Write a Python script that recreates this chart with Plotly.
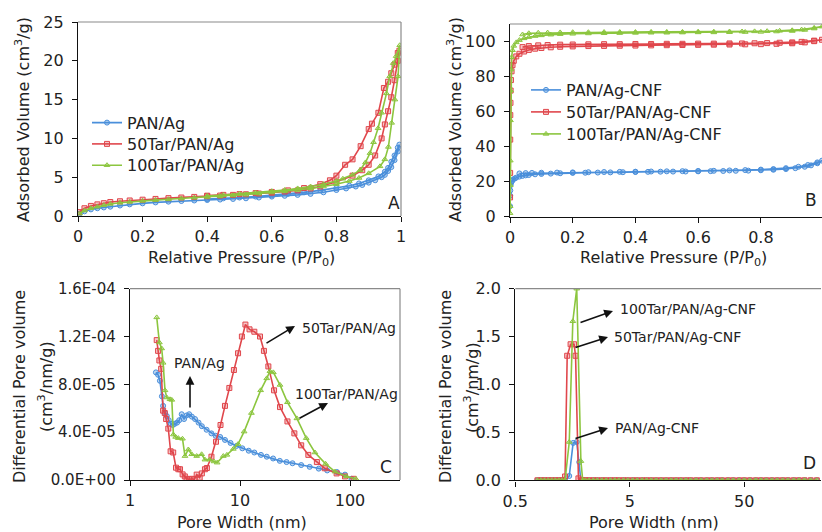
import plotly.graph_objects as go

W, H = 822, 532
FONT = "DejaVu Sans, Arial, sans-serif"
BLUE, RED, GREEN = "#4A8FDB", "#E0474C", "#8CC63F"
BLUE_F, RED_F, GREEN_F = "rgba(74,143,219,0.35)", "rgba(224,71,76,0.3)", "rgba(140,198,63,0.35)"

# ---------------- Panel A: isotherms (adsorption then desorption) ----------------
A_BLUE_P = [0.005, 0.02, 0.04, 0.06, 0.08, 0.10, 0.13, 0.16, 0.20, 0.24, 0.28, 0.32, 0.36, 0.40, 0.44, 0.48,
            0.52, 0.56, 0.60, 0.64, 0.68, 0.72, 0.76, 0.80, 0.83, 0.86, 0.88, 0.90, 0.92, 0.94, 0.95, 0.96,
            0.97, 0.98, 0.99, 0.995,
            0.99, 0.98, 0.97, 0.96, 0.95, 0.93, 0.90, 0.87, 0.84, 0.80, 0.75, 0.70, 0.65, 0.60, 0.55, 0.50,
            0.45, 0.40]
A_BLUE_V = [0.3, 0.6, 0.85, 1.0, 1.1, 1.2, 1.35, 1.5, 1.63, 1.75, 1.85, 1.93, 2.0, 2.06, 2.12, 2.2,
            2.28, 2.38, 2.5, 2.6, 2.72, 2.85, 3.05, 3.35, 3.55, 3.8, 4.0, 4.3, 4.6, 5.0, 5.3, 5.8,
            6.3, 7.2, 8.3, 9.2,
            8.8, 7.8, 7.0, 6.2, 5.7, 5.1, 4.6, 4.2, 3.9, 3.6, 3.3, 3.05, 2.85, 2.65, 2.5, 2.38,
            2.28, 2.18]

A_RED_P = [0.003, 0.02, 0.04, 0.06, 0.08, 0.10, 0.13, 0.16, 0.20, 0.24, 0.28, 0.32, 0.36, 0.40, 0.44, 0.48,
           0.52, 0.56, 0.60, 0.64, 0.68, 0.72, 0.75, 0.80, 0.85, 0.88, 0.90, 0.92, 0.94, 0.95, 0.96, 0.97,
           0.98, 0.99, 0.995,
           0.99, 0.98, 0.97, 0.96, 0.947, 0.93, 0.91, 0.90, 0.875, 0.85, 0.827, 0.80, 0.78, 0.75, 0.70,
           0.65, 0.60, 0.55, 0.50, 0.45, 0.40]
A_RED_V = [0.5, 1.0, 1.3, 1.5, 1.65, 1.8, 1.9, 2.0, 2.1, 2.2, 2.3, 2.38, 2.46, 2.55, 2.63, 2.72,
           2.8, 2.9, 3.0, 3.15, 3.3, 3.55, 3.8, 4.4, 5.2, 5.9, 6.6, 7.8, 10.0, 11.8, 13.5, 15.3,
           17.5, 20.0, 21.3,
           21.0, 19.5, 18.4, 17.3, 16.5, 13.3, 11.9, 11.2, 9.0, 7.3, 6.6, 5.2, 4.6, 4.1, 3.6,
           3.3, 3.1, 2.95, 2.82, 2.72, 2.62]

A_GREEN_P = [0.005, 0.02, 0.04, 0.06, 0.08, 0.10, 0.13, 0.16, 0.20, 0.24, 0.28, 0.32, 0.36, 0.40, 0.44, 0.48,
             0.52, 0.56, 0.60, 0.64, 0.68, 0.72, 0.76, 0.80, 0.84, 0.87, 0.90, 0.935, 0.95, 0.961, 0.971,
             0.981, 0.991, 0.996,
             0.985, 0.976, 0.965, 0.955, 0.94, 0.929, 0.915, 0.904, 0.89, 0.873, 0.85, 0.82, 0.80, 0.76,
             0.72, 0.68, 0.64, 0.60, 0.55, 0.50, 0.45, 0.40]
A_GREEN_V = [0.3, 0.7, 1.0, 1.2, 1.4, 1.55, 1.7, 1.82, 1.95, 2.05, 2.15, 2.25, 2.35, 2.45, 2.55, 2.65,
             2.75, 2.88, 3.02, 3.18, 3.35, 3.55, 3.8, 4.1, 4.5, 4.9, 5.5, 6.4, 7.3, 8.9, 12.0,
             15.0, 18.0, 22.0,
             20.6, 19.7, 18.0, 15.8, 13.3, 11.3, 9.5, 8.1, 6.9, 5.9, 5.3, 4.8, 4.5, 4.1,
             3.8, 3.55, 3.35, 3.2, 3.0, 2.85, 2.7, 2.58]

# ---------------- Panel B: CNF isotherms ----------------
B_BLUE_P = [0.0003, 0.0006, 0.001, 0.002, 0.004, 0.007, 0.01, 0.015, 0.02, 0.03, 0.04, 0.05, 0.06, 0.08,
            0.1, 0.13, 0.16, 0.2, 0.24, 0.28, 0.32, 0.36, 0.4, 0.44, 0.48, 0.52, 0.56, 0.6, 0.64, 0.68,
            0.72, 0.76, 0.8, 0.84, 0.88, 0.91, 0.94, 0.96, 0.98, 0.995,
            0.98, 0.95, 0.92, 0.88, 0.84, 0.8, 0.75, 0.7, 0.65, 0.6, 0.55, 0.5, 0.45, 0.4, 0.35, 0.3,
            0.25, 0.2, 0.15, 0.1, 0.07, 0.05, 0.03]
B_BLUE_V = [6, 12, 15, 18, 19.5, 20.5, 21.2, 21.8, 22.3, 22.9, 23.3, 23.6, 23.8, 24.2,
            24.4, 24.6, 24.8, 25.0, 25.1, 25.2, 25.3, 25.4, 25.5, 25.6, 25.7, 25.75, 25.8, 25.9, 26.0, 26.1,
            26.2, 26.3, 26.5, 26.8, 27.2, 27.7, 28.5, 29.3, 30.5, 32.0,
            31.0, 29.5, 28.5, 27.7, 27.2, 26.9, 26.6, 26.4, 26.2, 26.1, 26.0, 25.9, 25.8, 25.7, 25.6, 25.5,
            25.4, 25.3, 25.2, 25.1, 25.0, 24.9, 24.7]

B_RED_P = [0.0002, 0.0004, 0.0007, 0.001, 0.0015, 0.002, 0.003, 0.005, 0.008, 0.012, 0.02, 0.03, 0.045,
           0.06, 0.08, 0.1, 0.13, 0.16, 0.2, 0.25, 0.3, 0.35, 0.4, 0.45, 0.5, 0.55, 0.6, 0.65, 0.7, 0.75,
           0.8, 0.85, 0.9, 0.94, 0.97, 0.995,
           0.97, 0.93, 0.9, 0.86, 0.82, 0.78, 0.74, 0.7, 0.65, 0.6, 0.55, 0.5, 0.45, 0.4, 0.35, 0.3,
           0.25, 0.2, 0.16, 0.12, 0.09, 0.06, 0.04]
B_RED_V = [11, 25, 44, 58, 65, 72, 78, 83, 86.5, 89, 91.5, 93, 94.3,
           95.2, 95.9, 96.3, 96.7, 97.0, 97.2, 97.4, 97.5, 97.6, 97.7, 97.8, 97.9, 98.0, 98.1, 98.2, 98.3, 98.4,
           98.5, 98.7, 99.0, 99.5, 100.2, 101.0,
           100.5, 99.8, 99.5, 99.3, 99.1, 99.0, 98.9, 98.9, 98.8, 98.8, 98.7, 98.7, 98.6, 98.6, 98.5, 98.5,
           98.4, 98.3, 98.2, 98.0, 97.8, 97.4, 96.8]

B_GREEN_P = [0.0002, 0.0004, 0.0007, 0.001, 0.0015, 0.002, 0.003, 0.005, 0.008, 0.012, 0.02, 0.03, 0.045,
             0.06, 0.08, 0.1, 0.13, 0.16, 0.2, 0.25, 0.3, 0.35, 0.4, 0.45, 0.5, 0.55, 0.6, 0.65, 0.7, 0.75,
             0.8, 0.85, 0.9, 0.94, 0.97, 0.995,
             0.97, 0.93, 0.9, 0.86, 0.82, 0.78, 0.74, 0.7, 0.65, 0.6, 0.55, 0.5, 0.45, 0.4, 0.35, 0.3,
             0.25, 0.2, 0.16, 0.12, 0.09, 0.06, 0.04]
B_GREEN_V = [2, 6, 18, 32, 55, 72, 84, 91, 95, 97.5, 99.5, 100.8, 101.8,
             102.5, 103.1, 103.5, 103.9, 104.2, 104.4, 104.6, 104.7, 104.8, 104.9, 105.0, 105.0, 105.1, 105.2,
             105.2, 105.3, 105.4, 105.5, 105.7, 106.0, 106.6, 107.4, 108.5,
             107.8, 106.8, 106.4, 106.1, 105.9, 105.8, 105.7, 105.7, 105.6, 105.6, 105.5, 105.5, 105.5, 105.4,
             105.4, 105.4, 105.3, 105.3, 105.2, 105.1, 105.0, 104.7, 104.0]

# ---------------- Panel C: pore size distribution (precursor fibres) ----------------
C_BLUE_W = [1.72, 1.8, 1.87, 1.95, 2.0, 2.08, 2.16, 2.25, 2.35, 2.45, 2.55, 2.68, 2.8, 2.95, 3.1, 3.27,
            3.45, 3.65, 3.9, 4.2, 4.5, 4.97, 5.5, 6.0, 6.6, 7.3, 8.2, 9.3, 10.5, 12, 13.5, 15.5, 17.5,
            20, 23, 26.5, 30, 36, 43, 52, 62, 76, 90, 103]
C_BLUE_V = [9.0e-5, 8.8e-5, 8.3e-5, 7.0e-5, 6.2e-5, 5.6e-5, 5.35e-5, 5.0e-5, 4.7e-5, 4.6e-5, 4.7e-5,
            4.8e-5, 5.0e-5, 5.5e-5, 5.1e-5, 5.4e-5, 5.5e-5, 5.3e-5, 5.1e-5, 4.8e-5, 4.5e-5, 4.2e-5,
            3.9e-5, 3.7e-5, 3.6e-5, 3.35e-5, 3.1e-5, 2.85e-5, 2.65e-5, 2.45e-5, 2.3e-5, 2.1e-5, 1.95e-5,
            1.8e-5, 1.6e-5, 1.5e-5, 1.4e-5, 1.25e-5, 1.1e-5, 0.95e-5, 0.8e-5, 0.67e-5, 0.45e-5, 0.1e-5]

C_RED_W = [1.75, 1.8, 1.85, 1.92, 2.0, 2.07, 2.13, 2.23, 2.34, 2.47, 2.62, 2.75, 2.85, 3.01, 3.15, 3.27,
           3.45, 3.65, 3.85, 4.04, 4.3, 4.5, 4.8, 5.0, 5.5, 6.05, 6.65, 7.3, 8.0, 8.8, 9.6, 10.4, 11.2,
           12.2, 13.5, 15.2, 16.5, 18.1, 20.4, 23.1, 27, 31.2, 36, 41.8, 50, 59, 75.6, 90, 108]
C_RED_V = [11.7e-5, 10.8e-5, 10.0e-5, 9.3e-5, 5.8e-5, 5.6e-5, 5.1e-5, 4.3e-5, 2.4e-5, 2.3e-5, 1.03e-5,
           0.9e-5, 0.9e-5, 0.47e-5, 0.3e-5, 0.1e-5, 0.05e-5, 0.1e-5, 0.05e-5, 0.45e-5, 0.2e-5, 0.55e-5,
           0.9e-5, 1.0e-5, 1.95e-5, 3.2e-5, 4.6e-5, 6.2e-5, 7.7e-5, 9.2e-5, 10.6e-5, 12.0e-5, 13.0e-5,
           12.6e-5, 12.4e-5, 12.0e-5, 10.8e-5, 9.5e-5, 7.5e-5, 6.1e-5, 4.9e-5, 3.9e-5, 2.9e-5, 2.1e-5,
           1.5e-5, 0.98e-5, 0.55e-5, 0.3e-5, 0.1e-5]

C_GREEN_W = [1.75, 1.85, 1.94, 2.0, 2.08, 2.16, 2.31, 2.4, 2.48, 2.6, 2.75, 3.0, 3.16, 3.39, 3.64, 4.04,
             4.48, 4.8, 5.3, 5.8, 6.2, 7.05, 7.6, 8.7, 9.6, 10.9, 12.7, 15.4, 17.5, 18.7, 20.1, 23.1,
             27, 32.9, 40, 48, 60, 73, 93, 113]
C_GREEN_V = [13.6e-5, 11.5e-5, 11.0e-5, 9.8e-5, 7.5e-5, 6.9e-5, 6.75e-5, 6.7e-5, 3.8e-5, 3.6e-5, 3.5e-5,
             3.45e-5, 2.0e-5, 2.55e-5, 2.15e-5, 2.0e-5, 2.15e-5, 1.7e-5, 1.7e-5, 1.55e-5, 1.45e-5, 2.0e-5,
             2.1e-5, 2.6e-5, 3.0e-5, 4.05e-5, 5.6e-5, 7.5e-5, 8.5e-5, 9.1e-5, 9.0e-5, 7.95e-5, 6.5e-5,
             5.15e-5, 3.5e-5, 2.3e-5, 1.35e-5, 0.7e-5, 0.3e-5, 0.1e-5]

# ---------------- Panel D: pore size distribution (CNF) ----------------
D_W_LOW = [0.78, 0.84, 0.9, 0.97, 1.04, 1.12, 1.2, 1.28]
D_V_LOW = [0.0, 0.0, 0.0, 0.0, 0.0, 0.0, 0.0, 0.0]
D_W_HIGH = [2.05, 2.2, 2.4, 2.6, 2.85, 3.1, 3.4, 3.7, 4.0, 4.4, 4.8, 5.3, 5.8, 6.4, 7.0, 7.7, 8.5, 9.4,
            10.4, 11.5, 12.7, 14.0, 15.5, 17.0, 19.0, 21.0, 23.5, 26.0, 29.0, 32.0, 36.0, 40.0, 45.0,
            50.0, 56.0, 63.0, 70.0, 78.0, 87.0, 97.0, 108.0, 120.0, 135.0, 150.0, 168.0, 190.0, 215.0]
D_V_HIGH = [0.0, 0.0, 0.0, 0.0, 0.0, 0.0, 0.0, 0.0, 0.0, 0.0, 0.0, 0.0, 0.0, 0.0, 0.0, 0.0, 0.0, 0.0,
            0.0, 0.0, 0.0, 0.0, 0.0, 0.0, 0.0, 0.0, 0.0, 0.0, 0.0, 0.0, 0.0, 0.0, 0.0,
            0.0, 0.0, 0.0, 0.0, 0.0, 0.0, 0.0, 0.0, 0.0, 0.0, 0.0, 0.0, 0.0, 0.0]
D_BLUE_PW = [1.36, 1.48, 1.6, 1.72, 1.81, 1.87, 1.94]
D_BLUE_PV = [0.0, 0.045, 0.39, 0.40, 0.19, 0.0, 0.0]
D_RED_PW = [1.36, 1.42, 1.52, 1.63, 1.68, 1.78, 1.87, 1.94]
D_RED_PV = [0.04, 1.30, 1.42, 1.42, 1.30, 0.02, 0.0, 0.0]
D_GREEN_PW = [1.36, 1.48, 1.59, 1.72, 1.87, 1.94]
D_GREEN_PV = [0.0, 0.40, 1.66, 2.0, 0.2, 0.0]

NAMES_A = ["PAN/Ag", "50Tar/PAN/Ag", "100Tar/PAN/Ag"]
NAMES_B = ["PAN/Ag-CNF", "50Tar/PAN/Ag-CNF", "100Tar/PAN/Ag-CNF"]

C_YTICKS = [0, 4e-5, 8e-5, 1.2e-4, 1.6e-4]
C_YTEXT = ["0.0E+00", "4.0E-05", "8.0E-05", "1.2E-04", "1.6E-04"]
D_YTICKS = [0, 0.5, 1.0, 1.5, 2.0]
D_YTEXT = ["0.0", "0.5", "1.0", "1.5", "2.0"]


def px(x):
    return x / W


def py(y):
    return 1 - y / H


STY = [
    dict(color=BLUE, fill=BLUE_F, sym="circle", size=5),
    dict(color=RED, fill=RED_F, sym="square", size=5),
    dict(color=GREEN, fill=GREEN_F, sym="triangle-up", size=5),
]

fig = go.Figure()


def add(x, y, s, xa, ya, name=None, legend=None):
    fig.add_trace(go.Scatter(
        x=x, y=y, mode="lines+markers", name=name,
        xaxis=xa, yaxis=ya, cliponaxis=True,
        line=dict(color=s["color"], width=1.6),
        marker=dict(symbol=s["sym"], size=s["size"], color=s["fill"],
                    line=dict(color=s["color"], width=1)),
        showlegend=legend is not None, legend=legend if legend else "legend",
    ))


A_LEG = ["legend", "legend2", "legend3"]
B_LEG = ["legend4", "legend5", "legend6"]
for (xv, yv), s, n, lg in zip([(A_BLUE_P, A_BLUE_V), (A_RED_P, A_RED_V), (A_GREEN_P, A_GREEN_V)], STY, NAMES_A, A_LEG):
    add(xv, yv, s, "x", "y", n, lg)
for (xv, yv), s, n, lg in zip([(B_BLUE_P, B_BLUE_V), (B_RED_P, B_RED_V), (B_GREEN_P, B_GREEN_V)], STY, NAMES_B, B_LEG):
    add(xv, yv, s, "x2", "y2", n, lg)
for (xv, yv), s in zip([(C_BLUE_W, C_BLUE_V), (C_RED_W, C_RED_V), (C_GREEN_W, C_GREEN_V)], STY):
    add(xv, yv, s, "x3", "y3")
for (pw, pv), s in zip([(D_BLUE_PW, D_BLUE_PV), (D_RED_PW, D_RED_PV), (D_GREEN_PW, D_GREEN_PV)], STY):
    add(D_W_LOW + pw + D_W_HIGH, D_V_LOW + pv + D_V_HIGH, s, "x4", "y4")

tickfont = dict(family=FONT, size=16, color="#222")
tickfont_sm = dict(family=FONT, size=15, color="#222")
axbase = dict(showgrid=False, zeroline=False, showline=True, linecolor="#111", linewidth=1.4,
              ticks="outside", ticklen=5, tickwidth=1.2, tickcolor="#111", tickfont=tickfont,
              automargin=False)


def leg(x, y):
    return dict(x=px(x), y=py(y), xanchor="left", yanchor="middle", bgcolor="rgba(0,0,0,0)",
                font=dict(family=FONT, size=16, color="#222"), itemwidth=30, borderwidth=0)


fig.update_layout(
    width=W, height=H, margin=dict(l=0, r=0, t=0, b=0, autoexpand=False),
    paper_bgcolor="white", plot_bgcolor="white",
    font=dict(family=FONT, size=16, color="#222"),
    xaxis=dict(axbase, domain=[px(78), px(401)], range=[0, 1], tickvals=[0, 0.2, 0.4, 0.6, 0.8, 1],
               ticktext=["0", "0.2", "0.4", "0.6", "0.8", "1"], anchor="y", ticklabelstandoff=1),
    yaxis=dict(axbase, domain=[py(216), py(22)], range=[0, 25], tickvals=[0, 5, 10, 15, 20, 25],
               anchor="x", ticklabelstandoff=5),
    xaxis2=dict(axbase, domain=[px(510), 1.0], range=[0, 0.995], tickvals=[0, 0.2, 0.4, 0.6, 0.8],
                ticktext=["0", "0.2", "0.4", "0.6", "0.8"], anchor="y2", ticklabelstandoff=1),
    yaxis2=dict(axbase, domain=[py(216.7), py(24)], range=[0, 110], tickvals=[0, 20, 40, 60, 80, 100],
                anchor="x2", ticklabelstandoff=5),
    xaxis3=dict(axbase, type="log", domain=[px(130), px(400)], range=[0, 2.4545], tickvals=[1, 10, 100],
                ticktext=["1", "10", "100"], anchor="y3", ticklabelstandoff=1),
    yaxis3=dict(axbase, domain=[py(480), py(288.7)], range=[0, 1.6e-4], tickvals=C_YTICKS,
                ticktext=C_YTEXT, anchor="x3", ticklabelstandoff=5, tickfont=tickfont_sm),
    xaxis4=dict(axbase, type="log", domain=[px(515.3), px(821)], range=[-0.30103, 2.369],
                tickvals=[0.5, 5, 50], ticktext=["0.5", "5", "50"], anchor="y4", ticklabelstandoff=1),
    yaxis4=dict(axbase, domain=[py(480.3), py(288.7)], range=[0, 2.0], tickvals=D_YTICKS,
                ticktext=D_YTEXT, anchor="x4", ticklabelstandoff=5),
    legend=leg(87, 122.7), legend2=leg(87, 144), legend3=leg(87, 165.3),
    legend4=leg(526, 90), legend5=leg(526, 112), legend6=leg(526, 134),
)

# gray top/right frame lines
shapes = []
for xa, ya, right in [("x", "y", True), ("x2", "y2", False), ("x3", "y3", True), ("x4", "y4", False)]:
    shapes.append(dict(type="line", xref=f"{xa} domain", yref=f"{ya} domain", x0=0, x1=1, y0=1, y1=1,
                       line=dict(color="#8a8a8a", width=1.2)))
    if right:
        shapes.append(dict(type="line", xref=f"{xa} domain", yref=f"{ya} domain", x0=1, x1=1, y0=0, y1=1,
                           line=dict(color="#8a8a8a", width=1.2)))
fig.update_layout(shapes=shapes)

ann = []


def text(x, y, s, size=16, angle=0, xanchor="center"):
    ann.append(dict(x=px(x), y=py(y), xref="paper", yref="paper", text=s, showarrow=False,
                    font=dict(family=FONT, size=size, color="#222"), textangle=angle,
                    xanchor=xanchor, yanchor="middle"))


def arrow(tx, ty, hx, hy):
    ann.append(dict(x=px(hx), y=py(hy), xref="paper", yref="paper", text="", showarrow=True,
                    ax=tx - hx, ay=ty - hy, arrowhead=2, arrowsize=1.1, arrowwidth=1.6, arrowcolor="#111"))


# axis titles
text(22, 120, "Adsorbed Volume (cm<sup>3</sup>/g)", angle=-90)
text(454, 120, "Adsorbed Volume (cm<sup>3</sup>/g)", angle=-90)
text(242, 258, "Relative Pressure (P/P<sub>0</sub>)")
text(673, 258, "Relative Pressure (P/P<sub>0</sub>)")
text(20, 387, "Differential Pore volume", angle=-90)
text(46, 387, "(cm<sup>3</sup>/nm/g)", angle=-90)
text(446, 387, "Differential Pore volume", angle=-90)
text(472, 387, "(cm<sup>3</sup>/nm/g)", angle=-90)
text(242, 522, "Pore Width (nm)")
text(654, 522, "Pore Width (nm)")

# panel letters
text(394, 203, "A", size=17)
text(811, 200, "B", size=17)
text(386, 467, "C", size=17)
text(809, 463, "D", size=17)

# panel C labels
text(199, 363, "PAN/Ag", size=14)
arrow(190, 409, 190, 376)
text(300, 328, "50Tar/PAN/Ag", size=14, xanchor="left")
arrow(265, 344, 295, 326)
text(293, 394, "100Tar/PAN/Ag", size=14, xanchor="left")
arrow(298, 419, 328, 403)

# panel D labels
text(618, 309, "100Tar/PAN/Ag-CNF", size=14, xanchor="left")
arrow(579, 323, 613, 311)
text(612, 337, "50Tar/PAN/Ag-CNF", size=14, xanchor="left")
arrow(574, 348, 608, 337)
text(613, 428, "PAN/Ag-CNF", size=14, xanchor="left")
arrow(574, 439, 608, 428)

fig.update_layout(annotations=ann)

fig.write_html("out.html", config={"displayModeBar": False},
               post_script="document.body.style.margin='0';document.body.style.overflow='hidden';")
